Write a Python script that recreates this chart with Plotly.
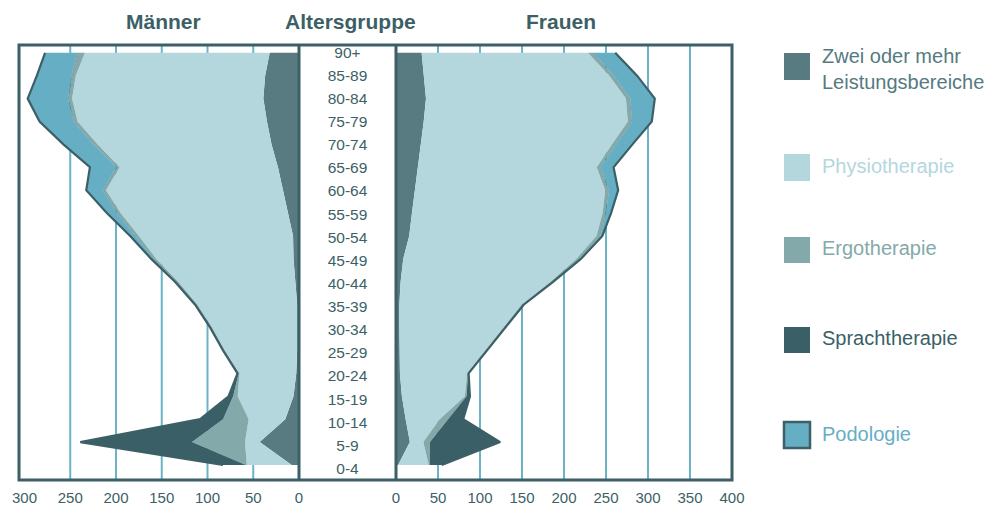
import plotly.graph_objects as go

# Altersgruppen von unten nach oben
ages = ["0-4", "5-9", "10-14", "15-19", "20-24", "25-29", "30-34", "35-39", "40-44",
        "45-49", "50-54", "55-59", "60-64", "65-69", "70-74", "75-79", "80-84", "85-89", "90+"]

# Männer (je Leistungsbereich)
m_zwei = [8, 43, 15, 6, 3, 2, 2, 2, 4, 6, 6.5, 12, 17, 23, 30, 35, 39, 37, 32]
m_physio = [49, 16, 40, 61, 62, 79, 93, 109, 128, 150, 168.5, 183, 194, 173, 190, 207, 209, 207, 202]
m_ergo = [1, 58, 28, 5, 1, 1, 1, 1.5, 2, 2, 3, 3.5, 3, 3, 4, 4, 4, 4, 8]
m_sprach = [25, 122, 25, 5, 1, 0.5, 0.5, 0.5, 0.5, 0.5, 0.5, 0.5, 0.5, 0.5, 0.5, 0.5, 0.5, 0.5, 0.5]
m_podo = [0, 0, 0, 0, 0.2, 0.5, 0.5, 0.5, 1, 3, 6, 11, 18, 29, 33, 37, 44, 38, 35]

# Frauen
f_zwei = [2.5, 16.5, 11.5, 7, 4.7, 4, 4, 4, 5.5, 8.6, 15.7, 19, 22.6, 26, 30, 33, 35.7, 33, 30.5]
f_physio = [36.5, 16, 40.5, 75, 80, 102, 124, 145.5, 178.5, 206, 223, 227, 226.4, 213, 227, 243, 238, 221, 198]
f_ergo = [1, 8, 10, 2, 1, 1, 1, 1.5, 2, 3, 4, 3.5, 4, 4, 4.5, 4.5, 4.5, 5, 6]
f_sprach = [14.5, 83.5, 18, 4, 0.5, 0.5, 0.5, 0.5, 0.5, 0.5, 0.5, 0.5, 0.5, 0.5, 0.5, 0.5, 0.5, 0.5, 0.5]
f_podo = [0, 0, 0, 0, 0.2, 0.5, 0.5, 0.5, 0.5, 2, 2.5, 6, 11, 15.5, 19.5, 23.5, 29.4, 27.5, 26]

series = ["Zwei oder mehr<br>Leistungsbereiche", "Physiotherapie", "Ergotherapie",
          "Sprachtherapie", "Podologie"]
colors = ["#577b81", "#b4d7dd", "#84a9aa", "#3a5f67", "#66aec3"]
text_colors = ["#557a80", "#b4d7dd", "#84a9aa", "#3a5f67", "#66aec3"]

m_ticks = [0, 50, 100, 150, 200, 250, 300]
f_ticks = [0, 50, 100, 150, 200, 250, 300, 350, 400]

frame = "#3d5f66"
grid = "#6ab3c8"
font = "Liberation Sans, Arial, sans-serif"

# the page body has an 8px margin, so the figure is a bit smaller and everything
# below is given in window pixels and shifted back
OFF = 8
W, H = 997 - OFF, 505 - OFF
def px(x):
    return (x - OFF) / W
def py(y):
    return 1 - (y - OFF) / H

fig = go.Figure()

for vals, col, name in zip([m_zwei, m_physio, m_ergo, m_sprach, m_podo], colors, series):
    podo = name == "Podologie"
    fig.add_trace(go.Scatter(x=vals, y=ages, xaxis="x", yaxis="y", stackgroup="m",
                             orientation="h", mode="lines", fillcolor=col,
                             line=dict(width=2.2 if podo else 0, color=frame),
                             showlegend=False, hoverinfo="skip"))

for vals, col, name in zip([f_zwei, f_physio, f_ergo, f_sprach, f_podo], colors, series):
    podo = name == "Podologie"
    fig.add_trace(go.Scatter(x=vals, y=ages, xaxis="x3", yaxis="y", stackgroup="f",
                             orientation="h", mode="lines", fillcolor=col,
                             line=dict(width=2.2 if podo else 0, color=frame),
                             showlegend=False, hoverinfo="skip"))

# Altersgruppen in der Mitte (eigene y-Achse, Abstand minimal größer als bei den Flächen)
fig.add_trace(go.Scatter(x=[0] * len(ages), y=ages, xaxis="x2", yaxis="y2", mode="text",
                         text=ages, textfont=dict(size=15.5, color=frame, family=font),
                         showlegend=False, hoverinfo="skip"))

y0, y1 = py(480), py(45)

axis_common = dict(showgrid=False, zeroline=False, showline=False, anchor="y",
                   automargin=False, ticks="outside", ticklen=4,
                   tickcolor="rgba(0,0,0,0)",
                   tickfont=dict(size=15, color=frame, family=font))

fig.update_layout(
    width=W, height=H,
    margin=dict(l=0, r=0, t=0, b=0, autoexpand=False),
    paper_bgcolor="white", plot_bgcolor="white",
    xaxis=dict(domain=[px(19), px(299)], range=[306, 0], tickvals=m_ticks, **axis_common),
    xaxis2=dict(domain=[px(299), px(396)], range=[-1, 1], visible=False, anchor="y2"),
    xaxis3=dict(domain=[px(396), px(732)], range=[0, 400], tickvals=f_ticks, **axis_common),
    yaxis=dict(domain=[y0, y1], type="category", categoryarray=ages,
               range=[-0.655, 18.34], showticklabels=False, showgrid=False,
               zeroline=False, anchor="x", automargin=False),
    yaxis2=dict(domain=[y0, y1], type="category", categoryarray=ages,
                range=[-0.43, 18.38], visible=False, anchor="x2"),
)

shapes = []
# Gitterlinien
for v in m_ticks[1:-1]:
    shapes.append(dict(type="line", xref="x", yref="paper", x0=v, x1=v, y0=y0, y1=y1,
                       line=dict(color=grid, width=2), layer="below"))
for v in f_ticks[1:-1]:
    shapes.append(dict(type="line", xref="x3", yref="paper", x0=v, x1=v, y0=y0, y1=y1,
                       line=dict(color=grid, width=2), layer="below"))
# Rahmen
shapes.append(dict(type="rect", xref="paper", yref="paper", x0=px(19), x1=px(732),
                   y0=y0, y1=y1, line=dict(color=frame, width=3), layer="above"))
for xp in [299, 396]:
    shapes.append(dict(type="line", xref="paper", yref="paper", x0=px(xp), x1=px(xp),
                       y0=y0, y1=y1, line=dict(color=frame, width=3), layer="above"))

# Legende
legend_y = [(53, 80), (154, 181), (237, 263), (327, 353), (422, 448)]
text_y = [69, 166, 248, 338, 434]
annotations = []
for i, name in enumerate(series):
    ya, yb = legend_y[i]
    shapes.append(dict(type="rect", xref="paper", yref="paper", x0=px(784), x1=px(810),
                       y0=py(yb), y1=py(ya), fillcolor=colors[i],
                       line=dict(color=frame if name == "Podologie" else colors[i],
                                 width=2.5 if name == "Podologie" else 0)))
    annotations.append(dict(xref="paper", yref="paper", x=px(820), y=py(text_y[i]),
                            text=name, showarrow=False, xanchor="left", yanchor="middle",
                            align="left",
                            font=dict(size=20, color=text_colors[i], family=font)))

for label, xc in [("Männer", 163), ("Altersgruppe", 350), ("Frauen", 561)]:
    annotations.append(dict(xref="paper", yref="paper", x=px(xc), y=py(22),
                            text="<b>" + label + "</b>", showarrow=False,
                            xanchor="center", yanchor="middle",
                            font=dict(size=21, color=frame, family=font)))

fig.update_layout(shapes=shapes, annotations=annotations)

fig.write_html("out.html")
